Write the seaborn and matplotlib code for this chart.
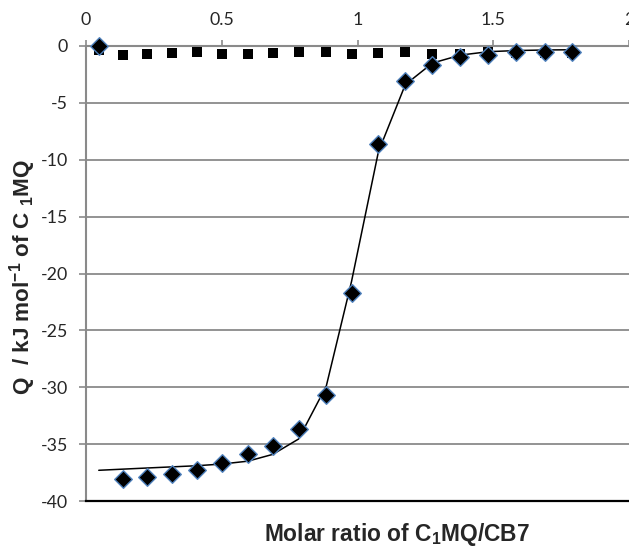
import matplotlib
matplotlib.use("Agg")
import matplotlib.pyplot as plt
import seaborn as sns
import pandas as pd

# ---- data ----
molar_ratio = [0.047, 0.135, 0.224, 0.316, 0.408, 0.500, 0.596, 0.688, 0.783, 0.885,
               0.978, 1.077, 1.176, 1.276, 1.379, 1.482, 1.585, 1.690, 1.790]
q_titration = [0.0, -38.1, -37.9, -37.6, -37.3, -36.7, -35.9, -35.2, -33.7, -30.7,
               -21.7, -8.6, -3.1, -1.7, -1.0, -0.75, -0.55, -0.5, -0.5]
q_dilution = [-0.35, -0.8, -0.7, -0.6, -0.53, -0.73, -0.73, -0.64, -0.55, -0.55,
              -0.7, -0.6, -0.55, -0.7, -0.7, -0.5, -0.6, -0.6, -0.6]
q_fit = [-37.3, -37.2, -37.1, -37.0, -36.9, -36.75, -36.5, -35.9, -34.55, -29.9,
         -20.7, -9.3, -3.4, -1.5, -0.8, -0.5, -0.4, -0.35, -0.33]
x_ticks = [0, 0.5, 1, 1.5, 2]
x_ticklabels = ["0", "0.5", "1", "1.5", "2"]
y_ticks = [0, -5, -10, -15, -20, -25, -30, -35, -40]
y_ticklabels = ["0", "-5", "-10", "-15", "-20", "-25", "-30", "-35", "-40"]

df = pd.DataFrame({"x": molar_ratio, "titr": q_titration,
                   "dil": q_dilution, "fit": q_fit})

sns.set_style("white")
plt.rcParams["axes.unicode_minus"] = False
plt.rcParams["mathtext.fontset"] = "custom"
plt.rcParams["mathtext.rm"] = "Liberation Sans"
plt.rcParams["mathtext.bf"] = "Liberation Sans:bold"

fig = plt.figure(figsize=(6.29, 5.48), dpi=100)
ax = fig.add_axes([86 / 629, 1 - 501 / 548, 543 / 629, 455 / 548])

grid_c = "#8a8a8a"
for yv in y_ticks[1:-1]:
    ax.axhline(yv, color=grid_c, lw=1.3, zorder=0)

sns.scatterplot(data=df, x="x", y="dil", marker="s", s=58, color="black",
                edgecolor="black", linewidth=0, ax=ax, zorder=3, clip_on=False)
sns.lineplot(data=df, x="x", y="fit", color="black", lw=1.1, sort=False,
             ax=ax, zorder=4)
sns.scatterplot(data=df, x="x", y="titr", marker="D", s=80, color="black",
                edgecolor="#4f81bd", linewidth=1.0, ax=ax, zorder=5, clip_on=False)

ax.set_xlim(0, 2)
ax.set_ylim(-40, 0)
ax.xaxis.tick_top()
ax.set_xticks(x_ticks)
ax.set_xticklabels(x_ticklabels)
ax.set_yticks(y_ticks)
ax.set_yticklabels(y_ticklabels)
tick_font = "Lato"
for lab in ax.get_xticklabels() + ax.get_yticklabels():
    lab.set_fontfamily(tick_font)
    lab.set_fontsize(12.8)
ax.tick_params(axis="x", which="both", top=True, bottom=False, direction="out",
               length=4, width=1.2, color=grid_c, pad=9)
ax.tick_params(axis="y", which="both", left=True, direction="out",
               length=5, width=1.2, color=grid_c, pad=8)
ax.set_xlabel("")
ax.set_ylabel("")

ax.spines["right"].set_visible(False)
ax.spines["top"].set_color(grid_c)
ax.spines["top"].set_linewidth(1.5)
ax.spines["left"].set_color(grid_c)
ax.spines["left"].set_linewidth(1.5)
ax.spines["bottom"].set_color("black")
ax.spines["bottom"].set_linewidth(1.6)

fig.text(397 / 629, 1 - 535 / 548, r"Molar ratio of C$_{\mathbf{1}}$MQ/CB7",
         ha="center", va="center", fontsize=16.4, fontweight="bold",
         family="Liberation Sans")
fig.text(23 / 629, 1 - 277 / 548, r"Q  / kJ mol$^{\mathbf{-1}}$ of C $_{\mathbf{1}}$MQ",
         ha="center", va="center", rotation=90, fontsize=16.2, fontweight="bold",
         family="Liberation Sans")

fig.savefig("out.png", dpi=100)
